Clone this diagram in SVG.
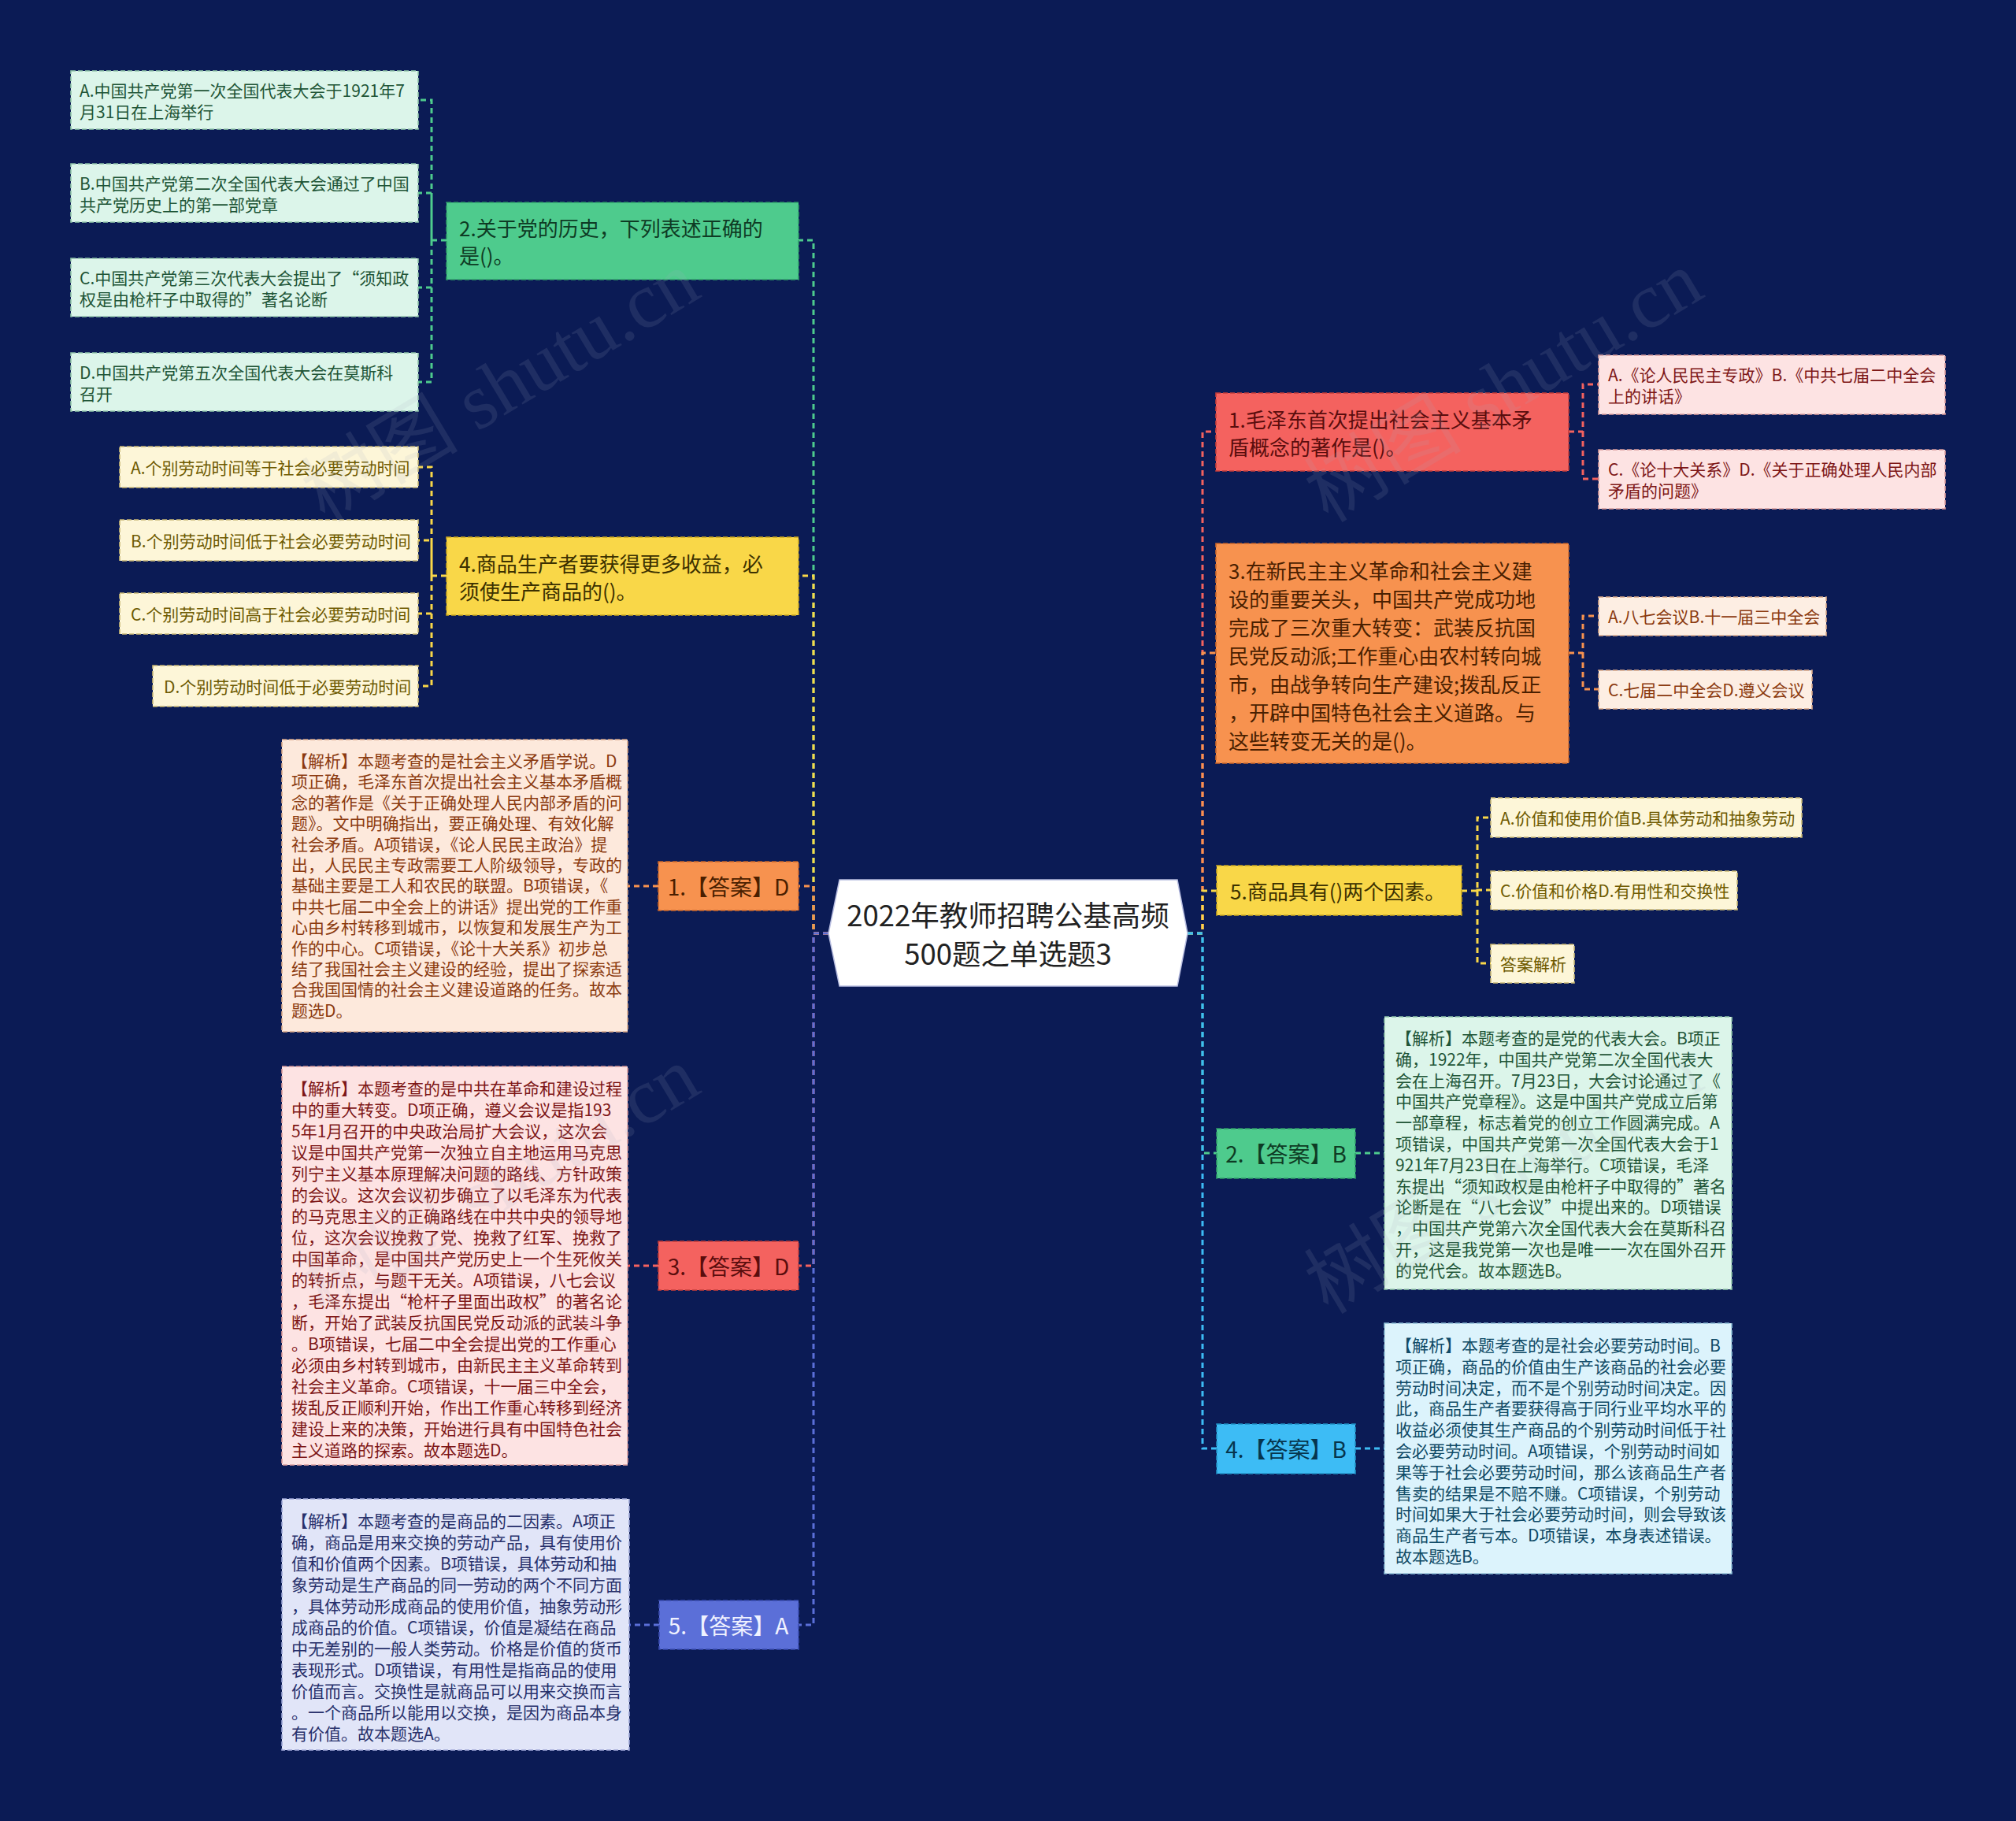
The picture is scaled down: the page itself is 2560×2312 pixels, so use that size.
<svg xmlns="http://www.w3.org/2000/svg" width="2560" height="2312" viewBox="0 0 2560 2312">
<style>
.t{font-family:"Noto Sans CJK SC","Microsoft YaHei","Liberation Sans",sans-serif;dominant-baseline:central}
.f21{font-size:21px}.f26{font-size:26px}.f28{font-size:28px}.f40{font-size:36.5px}
.c{fill:none;stroke-width:3;stroke-dasharray:7 5}
.n{stroke-width:1.6;stroke-dasharray:6 3}
.wm{font-family:"Liberation Serif","Noto Sans CJK SC",serif;font-size:100px;fill:#a8aec4;opacity:0.13}
</style>
<rect x="0" y="0" width="2560" height="2312" fill="#0b1b55"/>

<g id="connectors">
<path class="c" stroke="#4ecb8d" d="M1052,1185H1033V305H1014"/>
<path class="c" stroke="#f9d748" d="M1052,1185H1033V731H1014"/>
<path class="c" stroke="#f7924f" d="M1052,1185H1033V1125H1014"/>
<path class="c" stroke="#f4625f" d="M1052,1185H1033V1607H1014"/>
<path class="c" stroke="#5b6fd8" d="M1052,1185H1033V2063H1014"/>
<path class="c" stroke="#f4625f" d="M1508,1185H1527V548H1544"/>
<path class="c" stroke="#f7924f" d="M1508,1185H1527V829H1544"/>
<path class="c" stroke="#f9d748" d="M1508,1185H1527V1131H1545"/>
<path class="c" stroke="#4ecb8d" d="M1508,1185H1527V1464H1545"/>
<path class="c" stroke="#3dbcf5" d="M1508,1185H1527V1839H1545"/>
<path class="c" stroke="#4ecb8d" d="M567,305H548V127H531M548,305V245H531M548,305V365H531M548,305V485H531"/>
<path class="c" stroke="#f9d748" d="M567,731H548V593H531M548,731V686H531M548,731V779H531M548,731V871H531"/>
<path class="c" stroke="#f4625f" d="M1992,548H2010V488H2030M2010,548V608H2030"/>
<path class="c" stroke="#f7924f" d="M1992,829H2010V782H2030M2010,829V875H2030"/>
<path class="c" stroke="#f9d748" d="M1856,1131H1876V1038H1893M1876,1131V1130H1893M1876,1131V1223H1893"/>
<path class="c" stroke="#f7924f" d="M836,1125H797"/>
<path class="c" stroke="#f4625f" d="M836,1607H797"/>
<path class="c" stroke="#5b6fd8" d="M837,2063H799"/>
<path class="c" stroke="#4ecb8d" d="M1721,1464H1758"/>
<path class="c" stroke="#3dbcf5" d="M1721,1839H1758"/>
</g>

<g id="root">
<polygon points="1052,1185 1066,1117 1495,1117 1508,1185 1495,1252 1066,1252" fill="#ffffff" stroke="#b8bde0" stroke-width="1.5"/>
<text class="t f40" fill="#222222" text-anchor="middle"><tspan x="1280" y="1160">2022年教师招聘公基高频</tspan><tspan x="1280" y="1209">500题之单选题3</tspan></text>
</g>

<g id="q2">
<rect class="n" x="567" y="257" width="447" height="98" fill="#4ecb8d" stroke="#2f9e68"/>
<text class="t f26" fill="#0e3b24"><tspan x="583" y="288">2.关于党的历史，下列表述正确的</tspan><tspan x="583" y="323">是()。</tspan></text>
</g>
<g id="q2a">
<rect class="n" x="90" y="90" width="441" height="74" fill="#dcf5ea" stroke="#8fc4a8"/>
<text class="t f21" fill="#1f5537"><tspan x="101" y="114">A.中国共产党第一次全国代表大会于1921年7</tspan><tspan x="101" y="141">月31日在上海举行</tspan></text>
</g>
<g id="q2b">
<rect class="n" x="90" y="208" width="441" height="74" fill="#dcf5ea" stroke="#8fc4a8"/>
<text class="t f21" fill="#1f5537"><tspan x="101" y="232">B.中国共产党第二次全国代表大会通过了中国</tspan><tspan x="101" y="259">共产党历史上的第一部党章</tspan></text>
</g>
<g id="q2c">
<rect class="n" x="90" y="328" width="441" height="74" fill="#dcf5ea" stroke="#8fc4a8"/>
<text class="t f21" fill="#1f5537"><tspan x="101" y="352">C.中国共产党第三次代表大会提出了“须知政</tspan><tspan x="101" y="379">权是由枪杆子中取得的”著名论断</tspan></text>
</g>
<g id="q2d">
<rect class="n" x="90" y="448" width="441" height="74" fill="#dcf5ea" stroke="#8fc4a8"/>
<text class="t f21" fill="#1f5537"><tspan x="101" y="472">D.中国共产党第五次全国代表大会在莫斯科</tspan><tspan x="101" y="499">召开</tspan></text>
</g>

<g id="q4">
<rect class="n" x="567" y="682" width="447" height="99" fill="#f9d748" stroke="#c9a620"/>
<text class="t f26" fill="#3b3000"><tspan x="583" y="714">4.商品生产者要获得更多收益，必</tspan><tspan x="583" y="749">须使生产商品的()。</tspan></text>
</g>
<g id="q4a">
<rect class="n" x="152" y="567" width="379" height="52" fill="#fdf6d8" stroke="#c9b874"/>
<text class="t f21" fill="#6e5a00" x="166" y="593">A.个别劳动时间等于社会必要劳动时间</text>
</g>
<g id="q4b">
<rect class="n" x="152" y="660" width="379" height="52" fill="#fdf6d8" stroke="#c9b874"/>
<text class="t f21" fill="#6e5a00" x="166" y="686">B.个别劳动时间低于社会必要劳动时间</text>
</g>
<g id="q4c">
<rect class="n" x="152" y="753" width="379" height="52" fill="#fdf6d8" stroke="#c9b874"/>
<text class="t f21" fill="#6e5a00" x="166" y="779">C.个别劳动时间高于社会必要劳动时间</text>
</g>
<g id="q4d">
<rect class="n" x="194" y="845" width="337" height="52" fill="#fdf6d8" stroke="#c9b874"/>
<text class="t f21" fill="#6e5a00" x="208" y="871">D.个别劳动时间低于必要劳动时间</text>
</g>

<g id="a1">
<rect class="n" x="836" y="1094" width="178" height="62" fill="#f7924f" stroke="#c9652a"/>
<text class="t f28" fill="#4a1f00" x="925" y="1125" text-anchor="middle">1.【答案】D</text>
</g>
<g id="a1e">
<rect class="n" x="358" y="939" width="439" height="371" fill="#fde9dc" stroke="#d9a888"/>
<text class="t f21" fill="#8b3a0f">
<tspan x="370" y="965">【解析】本题考查的是社会主义矛盾学说。D</tspan>
<tspan x="370" y="991.4">项正确，毛泽东首次提出社会主义基本矛盾概</tspan>
<tspan x="370" y="1017.8">念的著作是《关于正确处理人民内部矛盾的问</tspan>
<tspan x="370" y="1044.2">题》。文中明确指出，要正确处理、有效化解</tspan>
<tspan x="370" y="1070.6">社会矛盾。A项错误，《论人民民主政治》提</tspan>
<tspan x="370" y="1097">出，人民民主专政需要工人阶级领导，专政的</tspan>
<tspan x="370" y="1123.4">基础主要是工人和农民的联盟。B项错误，《</tspan>
<tspan x="370" y="1149.8">中共七届二中全会上的讲话》提出党的工作重</tspan>
<tspan x="370" y="1176.2">心由乡村转移到城市，以恢复和发展生产为工</tspan>
<tspan x="370" y="1202.6">作的中心。C项错误，《论十大关系》初步总</tspan>
<tspan x="370" y="1229">结了我国社会主义建设的经验，提出了探索适</tspan>
<tspan x="370" y="1255.4">合我国国情的社会主义建设道路的任务。故本</tspan>
<tspan x="370" y="1281.8">题选D。</tspan>
</text>
</g>

<g id="a3">
<rect class="n" x="836" y="1576" width="178" height="62" fill="#f4625f" stroke="#c23c3a"/>
<text class="t f28" fill="#5a0d0d" x="925" y="1607" text-anchor="middle">3.【答案】D</text>
</g>
<g id="a3e">
<rect class="n" x="358" y="1354" width="439" height="506" fill="#fde3e3" stroke="#d99a9a"/>
<text class="t f21" fill="#7d1616">
<tspan x="370" y="1381">【解析】本题考查的是中共在革命和建设过程</tspan>
<tspan x="370" y="1408">中的重大转变。D项正确，遵义会议是指193</tspan>
<tspan x="370" y="1435">5年1月召开的中央政治局扩大会议，这次会</tspan>
<tspan x="370" y="1462">议是中国共产党第一次独立自主地运用马克思</tspan>
<tspan x="370" y="1489">列宁主义基本原理解决问题的路线、方针政策</tspan>
<tspan x="370" y="1516">的会议。这次会议初步确立了以毛泽东为代表</tspan>
<tspan x="370" y="1543">的马克思主义的正确路线在中共中央的领导地</tspan>
<tspan x="370" y="1570">位，这次会议挽救了党、挽救了红军、挽救了</tspan>
<tspan x="370" y="1597">中国革命，是中国共产党历史上一个生死攸关</tspan>
<tspan x="370" y="1624">的转折点，与题干无关。A项错误，八七会议</tspan>
<tspan x="370" y="1651">，毛泽东提出“枪杆子里面出政权”的著名论</tspan>
<tspan x="370" y="1678">断，开始了武装反抗国民党反动派的武装斗争</tspan>
<tspan x="370" y="1705">。B项错误，七届二中全会提出党的工作重心</tspan>
<tspan x="370" y="1732">必须由乡村转到城市，由新民主主义革命转到</tspan>
<tspan x="370" y="1759">社会主义革命。C项错误，十一届三中全会，</tspan>
<tspan x="370" y="1786">拨乱反正顺利开始，作出工作重心转移到经济</tspan>
<tspan x="370" y="1813">建设上来的决策，开始进行具有中国特色社会</tspan>
<tspan x="370" y="1840">主义道路的探索。故本题选D。</tspan>
</text>
</g>

<g id="a5">
<rect class="n" x="837" y="2032" width="177" height="62" fill="#5b6fd8" stroke="#3a4cb0"/>
<text class="t f28" fill="#f0f2ff" x="925" y="2063" text-anchor="middle">5.【答案】A</text>
</g>
<g id="a5e">
<rect class="n" x="358" y="1903" width="441" height="319" fill="#e1e5f8" stroke="#9aa3d4"/>
<text class="t f21" fill="#27306b">
<tspan x="370" y="1930">【解析】本题考查的是商品的二因素。A项正</tspan>
<tspan x="370" y="1957">确，商品是用来交换的劳动产品，具有使用价</tspan>
<tspan x="370" y="1984">值和价值两个因素。B项错误，具体劳动和抽</tspan>
<tspan x="370" y="2011">象劳动是生产商品的同一劳动的两个不同方面</tspan>
<tspan x="370" y="2038">，具体劳动形成商品的使用价值，抽象劳动形</tspan>
<tspan x="370" y="2065">成商品的价值。C项错误，价值是凝结在商品</tspan>
<tspan x="370" y="2092">中无差别的一般人类劳动。价格是价值的货币</tspan>
<tspan x="370" y="2119">表现形式。D项错误，有用性是指商品的使用</tspan>
<tspan x="370" y="2146">价值而言。交换性是就商品可以用来交换而言</tspan>
<tspan x="370" y="2173">。一个商品所以能用以交换，是因为商品本身</tspan>
<tspan x="370" y="2200">有价值。故本题选A。</tspan>
</text>
</g>

<g id="q1">
<rect class="n" x="1544" y="499" width="448" height="99" fill="#f4625f" stroke="#c23c3a"/>
<text class="t f26" fill="#5a0d0d"><tspan x="1560" y="531">1.毛泽东首次提出社会主义基本矛</tspan><tspan x="1560" y="566">盾概念的著作是()。</tspan></text>
</g>
<g id="q1a">
<rect class="n" x="2030" y="451" width="440" height="75" fill="#fde3e3" stroke="#d99a9a"/>
<text class="t f21" fill="#7d1616"><tspan x="2042" y="475">A.《论人民民主专政》B.《中共七届二中全会</tspan><tspan x="2042" y="502">上的讲话》</tspan></text>
</g>
<g id="q1c">
<rect class="n" x="2030" y="571" width="440" height="75" fill="#fde3e3" stroke="#d99a9a"/>
<text class="t f21" fill="#7d1616"><tspan x="2042" y="595">C.《论十大关系》D.《关于正确处理人民内部</tspan><tspan x="2042" y="622">矛盾的问题》</tspan></text>
</g>

<g id="q3">
<rect class="n" x="1544" y="690" width="448" height="279" fill="#f7924f" stroke="#c9652a"/>
<text class="t f26" fill="#4a1f00">
<tspan x="1560" y="723">3.在新民主主义革命和社会主义建</tspan>
<tspan x="1560" y="759">设的重要关头，中国共产党成功地</tspan>
<tspan x="1560" y="795">完成了三次重大转变：武装反抗国</tspan>
<tspan x="1560" y="831">民党反动派;工作重心由农村转向城</tspan>
<tspan x="1560" y="867">市，由战争转向生产建设;拨乱反正</tspan>
<tspan x="1560" y="903">，开辟中国特色社会主义道路。与</tspan>
<tspan x="1560" y="939">这些转变无关的是()。</tspan>
</text>
</g>
<g id="q3a">
<rect class="n" x="2030" y="758" width="289" height="49" fill="#fdeee3" stroke="#d9a888"/>
<text class="t f21" fill="#8b3a0f" x="2042" y="782">A.八七会议B.十一届三中全会</text>
</g>
<g id="q3c">
<rect class="n" x="2030" y="851" width="271" height="49" fill="#fdeee3" stroke="#d9a888"/>
<text class="t f21" fill="#8b3a0f" x="2042" y="875">C.七届二中全会D.遵义会议</text>
</g>

<g id="q5">
<rect class="n" x="1545" y="1099" width="311" height="63" fill="#f9d748" stroke="#c9a620"/>
<text class="t f26" fill="#3b3000" x="1562" y="1130">5.商品具有()两个因素。</text>
</g>
<g id="q5a">
<rect class="n" x="1893" y="1013" width="395" height="50" fill="#fdf6d8" stroke="#c9b874"/>
<text class="t f21" fill="#6e5a00" x="1905" y="1038">A.价值和使用价值B.具体劳动和抽象劳动</text>
</g>
<g id="q5c">
<rect class="n" x="1893" y="1106" width="313" height="49" fill="#fdf6d8" stroke="#c9b874"/>
<text class="t f21" fill="#6e5a00" x="1905" y="1130">C.价值和价格D.有用性和交换性</text>
</g>
<g id="q5x">
<rect class="n" x="1893" y="1199" width="106" height="49" fill="#fdf6d8" stroke="#c9b874"/>
<text class="t f21" fill="#6e5a00" x="1905" y="1223">答案解析</text>
</g>

<g id="a2">
<rect class="n" x="1545" y="1433" width="176" height="63" fill="#4ecb8d" stroke="#2f9e68"/>
<text class="t f28" fill="#0e3b24" x="1633" y="1464" text-anchor="middle">2.【答案】B</text>
</g>
<g id="a2e">
<rect class="n" x="1758" y="1291" width="441" height="346" fill="#dcf5ea" stroke="#8fc4a8"/>
<text class="t f21" fill="#1f5537">
<tspan x="1772" y="1317">【解析】本题考查的是党的代表大会。B项正</tspan>
<tspan x="1772" y="1343.8">确，1922年，中国共产党第二次全国代表大</tspan>
<tspan x="1772" y="1370.6">会在上海召开。7月23日，大会讨论通过了《</tspan>
<tspan x="1772" y="1397.4">中国共产党章程》。这是中国共产党成立后第</tspan>
<tspan x="1772" y="1424.2">一部章程，标志着党的创立工作圆满完成。A</tspan>
<tspan x="1772" y="1451">项错误，中国共产党第一次全国代表大会于1</tspan>
<tspan x="1772" y="1477.8">921年7月23日在上海举行。C项错误，毛泽</tspan>
<tspan x="1772" y="1504.6">东提出“须知政权是由枪杆子中取得的”著名</tspan>
<tspan x="1772" y="1531.4">论断是在“八七会议”中提出来的。D项错误</tspan>
<tspan x="1772" y="1558.2">，中国共产党第六次全国代表大会在莫斯科召</tspan>
<tspan x="1772" y="1585">开，这是我党第一次也是唯一一次在国外召开</tspan>
<tspan x="1772" y="1611.8">的党代会。故本题选B。</tspan>
</text>
</g>

<g id="a4">
<rect class="n" x="1545" y="1808" width="176" height="63" fill="#3dbcf5" stroke="#1e8fc4"/>
<text class="t f28" fill="#06354d" x="1633" y="1839" text-anchor="middle">4.【答案】B</text>
</g>
<g id="a4e">
<rect class="n" x="1758" y="1680" width="441" height="318" fill="#dcf3fc" stroke="#8ec0d8"/>
<text class="t f21" fill="#0f4a66">
<tspan x="1772" y="1707">【解析】本题考查的是社会必要劳动时间。B</tspan>
<tspan x="1772" y="1733.8">项正确，商品的价值由生产该商品的社会必要</tspan>
<tspan x="1772" y="1760.6">劳动时间决定，而不是个别劳动时间决定。因</tspan>
<tspan x="1772" y="1787.4">此，商品生产者要获得高于同行业平均水平的</tspan>
<tspan x="1772" y="1814.2">收益必须使其生产商品的个别劳动时间低于社</tspan>
<tspan x="1772" y="1841">会必要劳动时间。A项错误，个别劳动时间如</tspan>
<tspan x="1772" y="1867.8">果等于社会必要劳动时间，那么该商品生产者</tspan>
<tspan x="1772" y="1894.6">售卖的结果是不赔不赚。C项错误，个别劳动</tspan>
<tspan x="1772" y="1921.4">时间如果大于社会必要劳动时间，则会导致该</tspan>
<tspan x="1772" y="1948.2">商品生产者亏本。D项错误，本身表述错误。</tspan>
<tspan x="1772" y="1975">故本题选B。</tspan>
</text>
</g>

<g id="watermark">
<text class="wm" text-anchor="middle" transform="translate(653,520) rotate(-31)">树图 shutu.cn</text>
<text class="wm" text-anchor="middle" transform="translate(1927,520) rotate(-31)">树图 shutu.cn</text>
<text class="wm" text-anchor="middle" transform="translate(653,1530) rotate(-31)">树图 shutu.cn</text>
<text class="wm" text-anchor="middle" transform="translate(1927,1525) rotate(-31)">树图 shutu.cn</text>
</g>
</svg>
